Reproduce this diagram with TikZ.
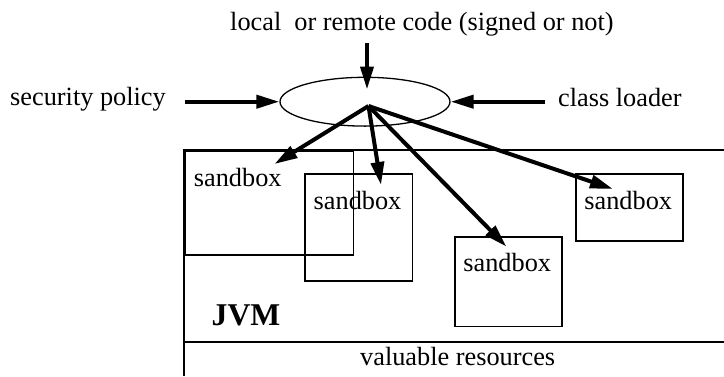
\documentclass[tikz,border=0pt]{standalone}
\usepackage{fontspec}
\setmainfont{Liberation Serif}
\usetikzlibrary{arrows.meta,shapes.geometric}
\begin{document}
\begin{tikzpicture}[x=1pt,y=-1pt,
  txt/.style={inner sep=0pt, font=\fontsize{26.3}{30}\selectfont},
  bigtxt/.style={inner sep=0pt, font=\fontsize{31.7}{36}\selectfont\bfseries},
  thickarrow/.style={line width=4pt, -{Triangle[length=23pt,width=13pt]}},
  sbox/.style={draw, line width=1.6pt, rectangle, inner sep=0pt, anchor=north west},
  frameline/.style={line width=1.6pt},
  hub/.style={draw, ellipse, line width=1.3pt, inner sep=0pt, minimum width=170pt, minimum height=48.8pt}
]
\useasboundingbox (0,0) rectangle (724,376);

% JVM frame (extends beyond the picture edges)
\draw[frameline] (724,150) -- (184,150) -- (184,376);
\draw[frameline] (184,341.7) -- (724,341.7);

% sandboxes
\node[sbox, minimum width=168.5pt, minimum height=104.3pt] (s1) at (184,150) {};
\node[sbox, minimum width=107.4pt, minimum height=106.7pt] (s2) at (304.3,173.3) {};
\node[sbox, minimum width=107pt, minimum height=89.7pt] (s3) at (454,236) {};
\node[sbox, minimum width=107.3pt, minimum height=66.7pt] (s4) at (575,173.3) {};

\node[txt, anchor=base west] (l1) at ([xshift=9.7pt,yshift=-36pt]s1.north west) {sandbox};
\node[txt, anchor=base west] (l2) at ([xshift=9.2pt,yshift=-36.5pt]s2.north west) {sandbox};
\node[txt, anchor=base west] (l3) at ([xshift=9.2pt,yshift=-35.8pt]s3.north west) {sandbox};
\node[txt, anchor=base west] (l4) at ([xshift=9.2pt,yshift=-36.5pt]s4.north west) {sandbox};

\node[bigtxt, anchor=base west] (jvm) at (211.5,325) {JVM};
\node[txt, anchor=base west] (res) at (360,365) {valuable resources};

% top part
\node[txt, anchor=base west] (code) at (230,30) {local\ \ or remote code (signed or not)};
\node[txt, anchor=base west] (pol) at (10,105.5) {security policy};
\node[txt, anchor=base west] (cl) at (558,106) {class loader};

\node[hub] (e) at (365,101.7) {};

\coordinate (codestart) at (367,43.3);
\coordinate (codetip) at (367,89.5);
\coordinate (polstart) at (184.7,101.7);
\coordinate (clstart) at (545,101.7);
\coordinate (hubpt) at (368.5,106);
\coordinate (t1) at (274.5,164);
\coordinate (t2) at (381,185);
\coordinate (t3) at (506.5,246.7);
\coordinate (t4) at (613,189);

\draw[thickarrow] (codestart) -- (codetip);
\draw[thickarrow] (polstart) -- (e.west);
\draw[thickarrow] (clstart) -- (e.east);
\draw[thickarrow] (hubpt) -- (t1);
\draw[thickarrow] (hubpt) -- (t2);
\draw[thickarrow] (hubpt) -- (t3);
\draw[thickarrow] (hubpt) -- (t4);
\end{tikzpicture}
\end{document}
